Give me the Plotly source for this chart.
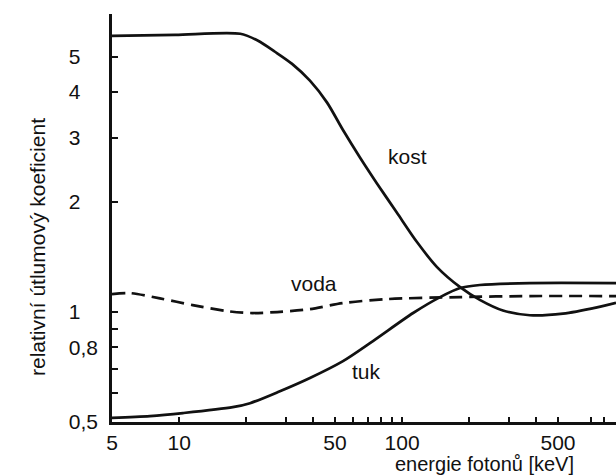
import plotly.graph_objects as go

# ---- data ----
energy_kost = [5, 9.6, 18.8, 22.6, 26.9, 32.1, 38.6, 46, 54.3, 64.7, 77.1, 94.8,
               117, 143, 182, 223, 283, 374, 526, 748, 910]
kost = [5.7, 5.74, 5.78, 5.53, 5.16, 4.78, 4.3, 3.75, 3.15, 2.65, 2.25, 1.87,
        1.55, 1.33, 1.17, 1.08, 1.01, 0.98, 0.99, 1.03, 1.06]

energy_voda = [5, 6.0, 8.2, 11.5, 16.4, 20.8, 27.5, 38.6, 54.3, 85.5, 182, 374, 910]
voda = [1.12, 1.127, 1.09, 1.045, 1.006, 0.994, 1.0, 1.019, 1.058, 1.085, 1.099, 1.106, 1.106]

energy_tuk = [5, 7.4, 10.4, 17.4, 20.8, 28.3, 38.6, 54.3, 74.0, 112, 148, 182, 223, 374, 910]
tuk = [0.513, 0.519, 0.529, 0.549, 0.563, 0.607, 0.66, 0.734, 0.833, 0.994, 1.099, 1.164,
       1.186, 1.2, 1.2]

x_tickvals = [5, 10, 20, 30, 40, 50, 60, 70, 80, 90, 100, 200, 300, 400, 500, 700, 800]
x_ticktext = ["5", "10", "", "", "", "50", "", "", "", "", "100", "", "", "", "500", "", ""]

y_tickvals = [0.5, 0.6, 0.7, 0.8, 0.9, 1, 2, 3, 4, 5]
y_ticktext = ["0,5", "", "", "0,8", "", "1", "2", "3", "4", "5"]

FONT = "Liberation Sans, Arial, sans-serif"
INK = "#111111"
FS = 21

fig = go.Figure()
line_style = dict(color=INK, width=2.7, shape="spline", smoothing=0.8)
fig.add_trace(go.Scatter(x=energy_kost, y=kost, mode="lines",
                         line=line_style, showlegend=False))
fig.add_trace(go.Scatter(x=energy_voda, y=voda, mode="lines",
                         line=dict(line_style, dash="13px,7px"), showlegend=False))
fig.add_trace(go.Scatter(x=energy_tuk, y=tuk, mode="lines",
                         line=line_style, showlegend=False))

# pad short labels on the right so the column reads left-aligned
def padded(t):
    return t + "\u2007\u2008" if len(t) == 1 else t

fig.update_xaxes(type="log", range=[0.699, 2.959],
                 tickvals=x_tickvals, ticktext=x_ticktext,
                 showline=True, linecolor=INK, linewidth=2.6,
                 ticks="inside", ticklen=5, tickwidth=2, tickcolor=INK,
                 showgrid=False, zeroline=False,
                 tickfont=dict(family=FONT, size=FS, color=INK),
                 ticklabelstandoff=0)
fig.update_yaxes(type="log", range=[-0.301, 0.816],
                 tickvals=y_tickvals, ticktext=[padded(t) for t in y_ticktext],
                 showline=True, linecolor=INK, linewidth=2.6,
                 ticks="inside", ticklen=6, tickwidth=2, tickcolor=INK,
                 showgrid=False, zeroline=False,
                 tickfont=dict(family=FONT, size=FS, color=INK),
                 ticklabelstandoff=7)

fig.add_annotation(text="kost", x=2.022, y=0.425, xref="x", yref="y", showarrow=False,
                   font=dict(family=FONT, size=FS, color=INK))
fig.add_annotation(text="voda", x=1.605, y=0.0795, xref="x", yref="y", showarrow=False,
                   font=dict(family=FONT, size=FS, color=INK))
fig.add_annotation(text="tuk", x=1.838, y=-0.164, xref="x", yref="y", showarrow=False,
                   font=dict(family=FONT, size=FS, color=INK))

fig.add_annotation(text="relativní útlumový koeficient", textangle=-90,
                   x=-0.1468, y=0.429, xref="paper", yref="paper", showarrow=False,
                   xanchor="center", yanchor="middle",
                   font=dict(family=FONT, size=FS, color=INK))
fig.add_annotation(text="energie fotonů [keV]",
                   x=0.740, y=-0.1025, xref="paper", yref="paper", showarrow=False,
                   xanchor="center", yanchor="middle",
                   font=dict(family=FONT, size=20, color=INK))

fig.update_layout(width=616, height=476, autosize=False,
                  margin=dict(l=112, r=0, t=14, b=54),
                  paper_bgcolor="white", plot_bgcolor="white")

fig.write_html("out.html", config={"displayModeBar": False},
               post_script="document.body.style.margin='0';")
